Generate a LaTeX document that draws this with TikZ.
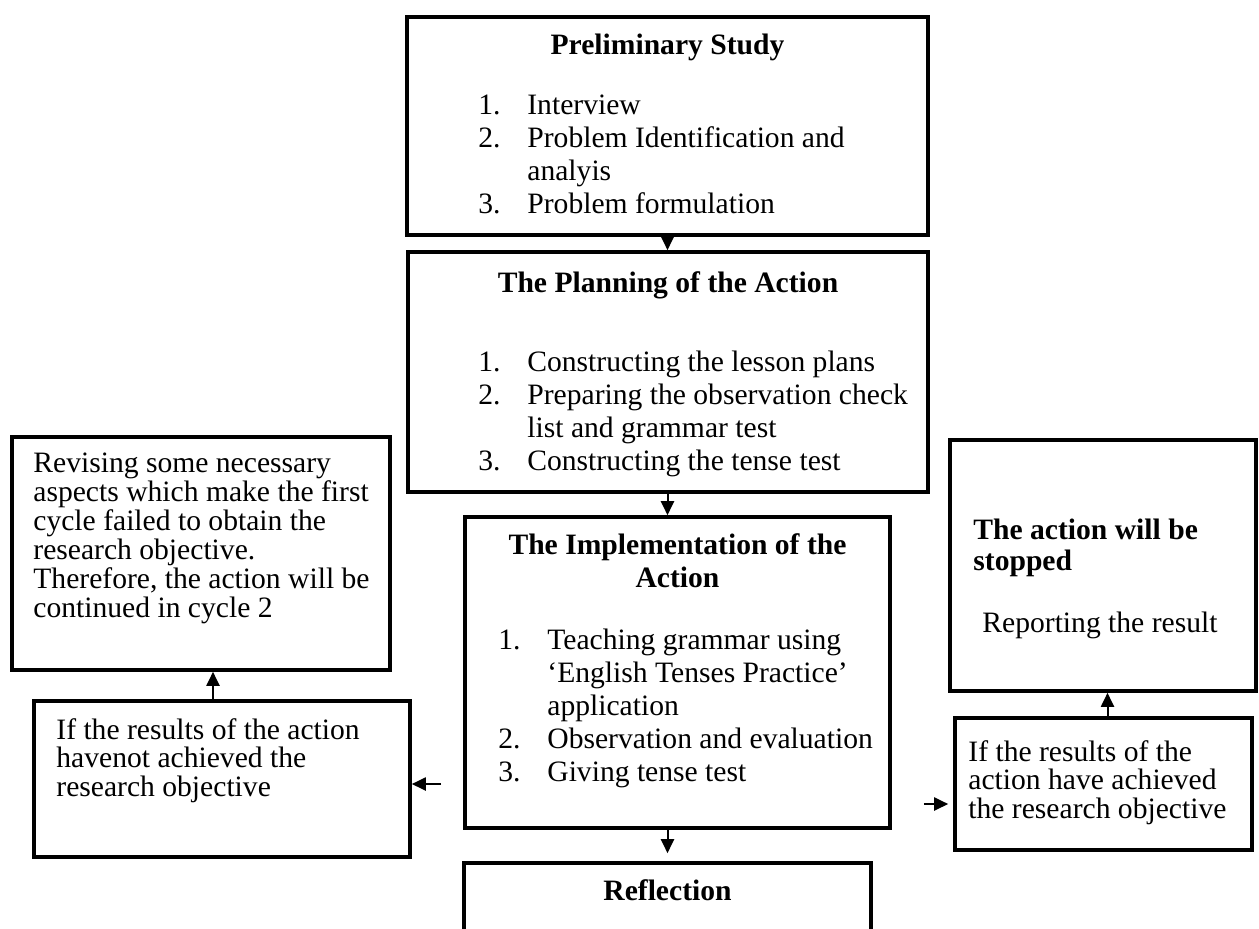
\documentclass[tikz,border=0pt]{standalone}
\usepackage{fontspec}
\setmainfont{Liberation Serif}
\usetikzlibrary{arrows.meta}

\begin{document}
\begin{tikzpicture}[x=0.5pt,y=-0.5pt]
			
			\tikzstyle{stage} = [rectangle, draw=black, line width=1.8pt, inner sep=0pt]
			\tikzstyle{txt} = [inner sep=0pt, font=\fontsize{14.8}{16.5}\selectfont]
			\tikzstyle{para} = [inner sep=0pt, font=\fontsize{14.8}{14}\selectfont]
			\tikzstyle{arrow} = [line width=1pt, -{Triangle[length=7pt,width=6.5pt]}]
			
			\useasboundingbox (0,0) rectangle (1259,928);
			\clip (0,0) rectangle (1259,928);
			
			% boxes
			\node (prelim) [stage, minimum width=260.5pt, minimum height=109pt] at (667.5,126) {};
			\node (plan) [stage, minimum width=260pt, minimum height=120pt] at (668,372) {};
			\node (impl) [stage, minimum width=212.5pt, minimum height=155.5pt] at (677.5,672.5) {};
			\node (refl) [stage, minimum width=203.5pt, minimum height=48.5pt] at (667.5,911.5) {};
			\node (revise) [stage, minimum width=189pt, minimum height=116.5pt] at (201,553.5) {};
			\node (ifnot) [stage, minimum width=188pt, minimum height=78pt] at (222,779) {};
			\node (stop) [stage, minimum width=153pt, minimum height=125.5pt] at (1103,565.5) {};
			\node (ifyes) [stage, minimum width=148.5pt, minimum height=66pt] at (1103.5,784) {};
			
			% texts
			\node (prelimtitle) [txt, anchor=base] at (667.5,54) {\textbf{Preliminary Study}};
			\node (prelimlist) [txt, anchor=base west] at (478,114) {\begin{tabular}[t]{@{}p{24.5pt}@{}l@{}}
				1. & Interview\\
				2. & Problem Identification and\\
				   & analyis\\
				3. & Problem formulation
			\end{tabular}};
			
			\node (plantitle) [txt, anchor=base] at (668,292) {\textbf{The Planning of the Action}};
			\node (planlist) [txt, anchor=base west] at (478,371) {\begin{tabular}[t]{@{}p{24.5pt}@{}l@{}}
				1. & Constructing the lesson plans\\
				2. & Preparing the observation check\\
				   & list and grammar test\\
				3. & Constructing the tense test
			\end{tabular}};
			
			\node (impltitle) [txt, anchor=base] at (677.5,554) {\begin{tabular}[t]{@{}c@{}}
				\textbf{The Implementation of the}\\
				\textbf{Action}
			\end{tabular}};
			\node (impllist) [txt, anchor=base west] at (498,649) {\begin{tabular}[t]{@{}p{24.5pt}@{}l@{}}
				1. & Teaching grammar using\\
				   & ‘English Tenses Practice’\\
				   & application\\
				2. & Observation and evaluation\\
				3. & Giving tense test
			\end{tabular}};
			
			\node (refltitle) [txt, anchor=base] at (667.5,900) {\textbf{Reflection}};
			
			\node (revisetext) [para, anchor=base west] at (33,472) {\begin{tabular}[t]{@{}l@{}}
				Revising some necessary\\
				aspects which make the first\\
				cycle failed to obtain the\\
				research objective.\\
				Therefore, the action will be\\
				continued in cycle 2
			\end{tabular}};
			
			\node (ifnottext) [para, anchor=base west] at (56,739) {\begin{tabular}[t]{@{}l@{}}
				If the results of the action\\
				havenot achieved the\\
				research objective
			\end{tabular}};
			
			\node (stoptext) [txt, anchor=base west, font=\fontsize{14.8}{15.5}\selectfont] at (973,539) {\begin{tabular}[t]{@{}l@{}}
				\textbf{The action will be}\\
				\textbf{stopped}\\
				\\
				\hspace{4.5pt}Reporting the result
			\end{tabular}};
			
			\node (ifyestext) [para, anchor=base west] at (968,761) {\begin{tabular}[t]{@{}l@{}}
				If the results of the\\
				action have achieved\\
				the research objective
			\end{tabular}};
			
			% connectors
			\draw [arrow] (prelim.south) -- (prelim.south |- plan.north);
			\draw [arrow] (prelim.south |- plan.south) -- (prelim.south |- impl.north);
			\draw [arrow, shorten >=4pt] (prelim.south |- impl.south) -- (prelim.south |- refl.north);
			\draw [arrow, shorten <=11pt] ([yshift=-2.5pt]impl.west |- ifnot.east) -- ([yshift=-2.5pt]ifnot.east);
			\draw [arrow] ([xshift=-4.5pt]ifnot.north) -- ([xshift=-4.5pt]ifnot.north |- revise.south);
			\draw [arrow, shorten <=16pt, shorten >=2.5pt] ([yshift=-10pt]impl.east |- ifyes.west) -- ([yshift=-10pt]ifyes.west);
			\draw [arrow] ([xshift=2pt]ifyes.north) -- ([xshift=2pt]ifyes.north |- stop.south);
			
		\end{tikzpicture}
\end{document}
